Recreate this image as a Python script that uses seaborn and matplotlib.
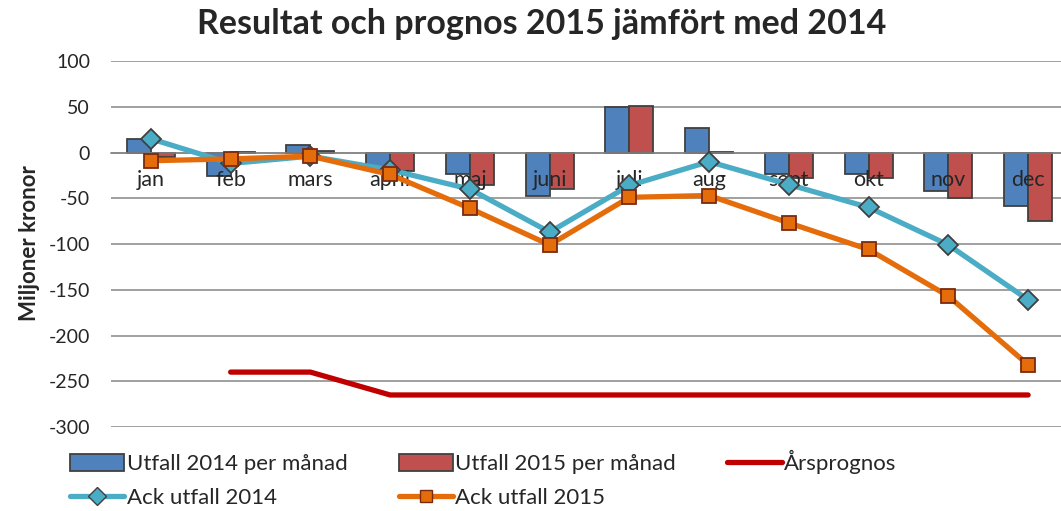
import numpy as np
import pandas as pd
import matplotlib
matplotlib.use('Agg')
import matplotlib.pyplot as plt
from matplotlib.patches import Patch
from matplotlib.lines import Line2D
import seaborn as sns

months = ['jan', 'feb', 'mars', 'april', 'maj', 'juni', 'juli', 'aug', 'sept', 'okt', 'nov', 'dec']
utfall_2014 = [15, -26, 8, -17, -24, -48, 50, 27, -24, -24, -42, -59]
utfall_2015 = [-5, 1, 2, -20, -36, -40, 51, 1, -28, -28, -50, -75]
ack_2014 = [15, -12, -4, -19, -40, -87, -36, -10, -35, -60, -101, -161]
ack_2015 = [-9, -7, -4, -24, -61, -101, -49, -47, -77, -106, -157, -232]
arsprognos = [np.nan, -240, -240, -265, -265, -265, -265, -265, -265, -265, -265, -265]

c_blue = '#4F81BD'
c_red = '#C0504D'
c_aqua = '#4BACC6'
c_orange = '#E46C0A'
c_prog = '#C00000'

sns.set_style('white')
plt.rcParams['font.family'] = ['Lato', 'DejaVu Sans']
plt.rcParams['axes.unicode_minus'] = False

df = pd.DataFrame({
    'month': months * 2,
    'value': utfall_2014 + utfall_2015,
    'serie': ['Utfall 2014 per månad'] * 12 + ['Utfall 2015 per månad'] * 12,
})

fig = plt.figure(figsize=(10.61, 5.11), dpi=100)
ax = fig.add_axes([111 / 1061, (511 - 427) / 511, (1068 - 111) / 1061, 366 / 511])

sns.barplot(data=df, x='month', y='value', hue='serie', order=months,
            palette=[c_blue, c_red], saturation=1, width=0.6, edgecolor='#404040',
            linewidth=1.3, errorbar=None, legend=False, ax=ax, zorder=2)

x = np.arange(len(months))
# month labels sit just under the zero line, on top of the bars
for i, m in enumerate(months):
    ax.annotate(m, (i, 0), xytext=(0, -20), textcoords='offset points', ha='center',
                va='center', fontsize=15.5, zorder=3)

ax.plot(x, ack_2014, color=c_aqua, lw=3.8, marker='D', ms=10, mfc=c_aqua,
        mec='#404040', mew=1.3, zorder=4)
ax.plot(x, ack_2015, color=c_orange, lw=3.8, marker='s', ms=10, mfc=c_orange,
        mec='#7a2a10', mew=1.3, zorder=5)
ax.plot(x, arsprognos, color=c_prog, lw=3.8, solid_capstyle='round', zorder=3)

ax.set_ylim(-300, 100)
ax.set_xlim(-0.5, 11.5)
ax.set_yticks(range(-300, 101, 50))
ax.yaxis.grid(True, color='#868686', lw=1.1, zorder=0)
ax.set_axisbelow(True)
for s in ['top', 'right', 'left']:
    ax.spines[s].set_visible(False)
ax.spines['bottom'].set_position(('data', 0))
ax.spines['bottom'].set_color('#868686')
ax.spines['bottom'].set_linewidth(1.1)
ax.tick_params(axis='both', length=0, labelsize=14)
ax.tick_params(axis='y', pad=15)
ax.set_xticks(x)
ax.set_xticklabels([])
ax.set_xlabel('')
ax.set_ylabel('')

fig.text(30 / 1061, (511 - 243) / 511, 'Miljoner kronor', rotation=90, ha='center',
         va='center', fontsize=16, fontweight='bold')
fig.text(542 / 1061, 1 - 24 / 511, 'Resultat och prognos 2015 jämfört med 2014',
         ha='center', va='center', fontsize=24.5, fontweight='bold')

handles = [
    Patch(facecolor=c_blue, edgecolor='#404040', lw=1.3, label='Utfall 2014 per månad'),
    Line2D([], [], color=c_aqua, lw=3.8, marker='D', ms=9, mfc=c_aqua, mec='#404040',
           label='Ack utfall 2014'),
    Patch(facecolor=c_red, edgecolor='#404040', lw=1.3, label='Utfall 2015 per månad'),
    Line2D([], [], color=c_orange, lw=3.8, marker='s', ms=9, mfc=c_orange, mec='#7a2a10',
           label='Ack utfall 2015'),
    Line2D([], [], color=c_prog, lw=3.8, solid_capstyle='round', label='Årsprognos'),
]
fig.legend(handles=handles, ncol=3, loc='upper left', bbox_to_anchor=(70 / 1061, 1 - 450 / 511),
           frameon=False, fontsize=16, handlelength=2.45, handleheight=0.8,
           handletextpad=0.1, columnspacing=2.3, labelspacing=0.63, borderpad=0,
           borderaxespad=0)

fig.savefig('out.png', dpi=100)
